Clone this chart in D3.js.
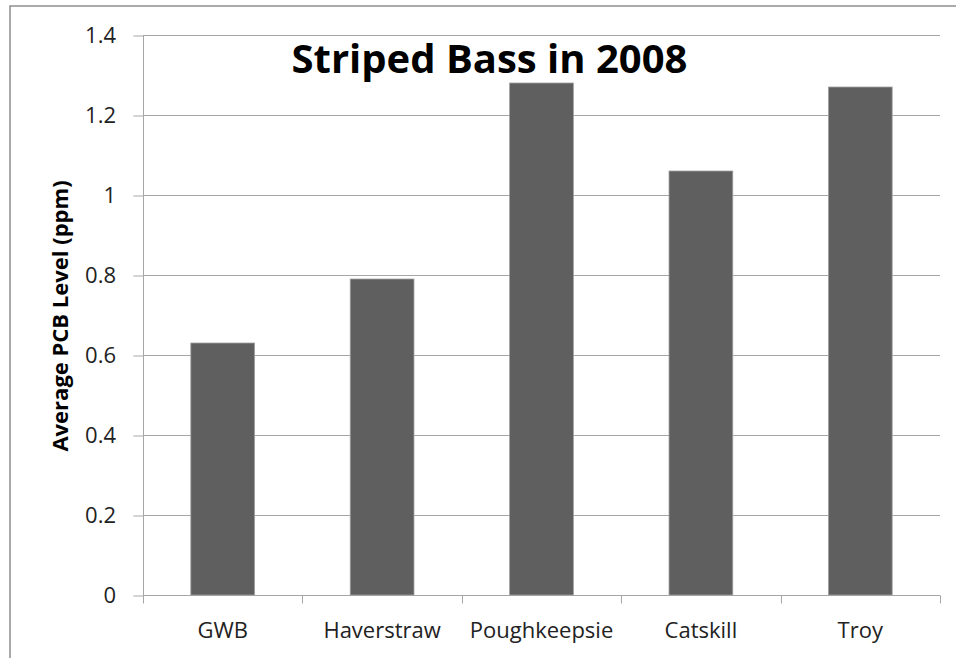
<!DOCTYPE html>
<html>
<head>
<meta charset="utf-8">
<script src="https://cdn.jsdelivr.net/npm/d3@7"></script>
<style>
  html, body { margin: 0; padding: 0; background: #fff; }
  svg { display: block; }
</style>
</head>
<body>
<svg id="chart" width="956" height="658"></svg>
<script>
// PCB levels in striped bass, 2008, by sampling site
const sites = ["GWB", "Haverstraw", "Poughkeepsie", "Catskill", "Troy"];
const pcbLevels = [0.63, 0.79, 1.28, 1.06, 1.27];
const yTicks = [0, 0.2, 0.4, 0.6, 0.8, 1, 1.2, 1.4];
const chartTitle = "Striped Bass in 2008";
const yAxisTitle = "Average PCB Level (ppm)";

const svg = d3.select("#chart");
const plot = { left: 143, right: 940, top: 35, bottom: 595 };
const gridColor = "#a6a6a6";
const textFont = "'Open Sans', 'Noto Sans', sans-serif";

// outer chart border (continues past the right and bottom edges)
svg.append("rect")
  .attr("x", 10).attr("y", 6)
  .attr("width", 960).attr("height", 670)
  .attr("fill", "#fff")
  .attr("stroke", "#8f8f8f").attr("stroke-width", 1.5);

const x = d3.scaleBand()
  .domain(sites)
  .range([plot.left, plot.right])
  .paddingInner(0.6)
  .paddingOuter(0.3);

const y = d3.scaleLinear()
  .domain([0, 1.4])
  .range([plot.bottom, plot.top]);

// horizontal gridlines
svg.append("g")
  .selectAll("line")
  .data(yTicks.filter(d => d > 0))
  .join("line")
  .attr("x1", plot.left).attr("x2", plot.right)
  .attr("y1", d => Math.round(y(d)) + 0.5)
  .attr("y2", d => Math.round(y(d)) + 0.5)
  .attr("stroke", gridColor).attr("stroke-width", 1);

// y axis
const yAxis = svg.append("g")
  .attr("transform", `translate(${plot.left + 0.5},0)`)
  .call(d3.axisLeft(y).tickValues(yTicks).tickSize(10).tickPadding(17.5)
    .tickFormat(d => d3.format("")(+d.toFixed(1))));
yAxis.select(".domain").attr("stroke", gridColor).attr("d", `M0,${plot.top}V${plot.bottom}`);
yAxis.selectAll(".tick line").attr("stroke", gridColor).attr("transform", "translate(0,0.5)");
yAxis.selectAll(".tick text")
  .attr("font-family", textFont).attr("font-size", 22).attr("fill", "#222");

// x axis with category boundary ticks
const xAxisG = svg.append("g")
  .attr("transform", `translate(0,${Math.round(plot.bottom) + 0.5})`);
xAxisG.append("line")
  .attr("x1", plot.left).attr("x2", plot.right)
  .attr("stroke", gridColor);
const boundaries = sites.map(s => x(s) - x.step() * x.paddingOuter()).concat([plot.right]);
xAxisG.selectAll("line.bnd")
  .data(boundaries)
  .join("line").attr("class", "bnd")
  .attr("x1", d => Math.round(d) + 0.5).attr("x2", d => Math.round(d) + 0.5)
  .attr("y1", 0).attr("y2", 8)
  .attr("stroke", gridColor);
xAxisG.selectAll("text")
  .data(sites)
  .join("text")
  .attr("x", d => x(d) + x.bandwidth() / 2)
  .attr("y", 42.5)
  .attr("text-anchor", "middle")
  .attr("font-family", textFont).attr("font-size", 22).attr("fill", "#222")
  .text(d => d);

// bars
svg.append("g")
  .selectAll("rect")
  .data(sites.map((s, i) => ({ site: s, value: pcbLevels[i] })))
  .join("rect")
  .attr("x", d => x(d.site))
  .attr("y", d => y(d.value))
  .attr("width", x.bandwidth())
  .attr("height", d => y(0) - y(d.value))
  .attr("fill", "#5f5f5f")
  .attr("stroke", "#a0a0a0").attr("stroke-width", 0.8);

// title
svg.append("text")
  .attr("x", 489.5).attr("y", 73)
  .attr("text-anchor", "middle")
  .attr("font-family", textFont).attr("font-weight", "bold")
  .attr("font-size", 40).attr("fill", "#000")
  .text(chartTitle);

// y axis title
svg.append("text")
  .attr("transform", `translate(68,${316}) rotate(-90)`)
  .attr("text-anchor", "middle")
  .attr("font-family", textFont).attr("font-weight", "bold")
  .attr("font-size", 22).attr("fill", "#000")
  .text(yAxisTitle);
</script>
</body>
</html>
